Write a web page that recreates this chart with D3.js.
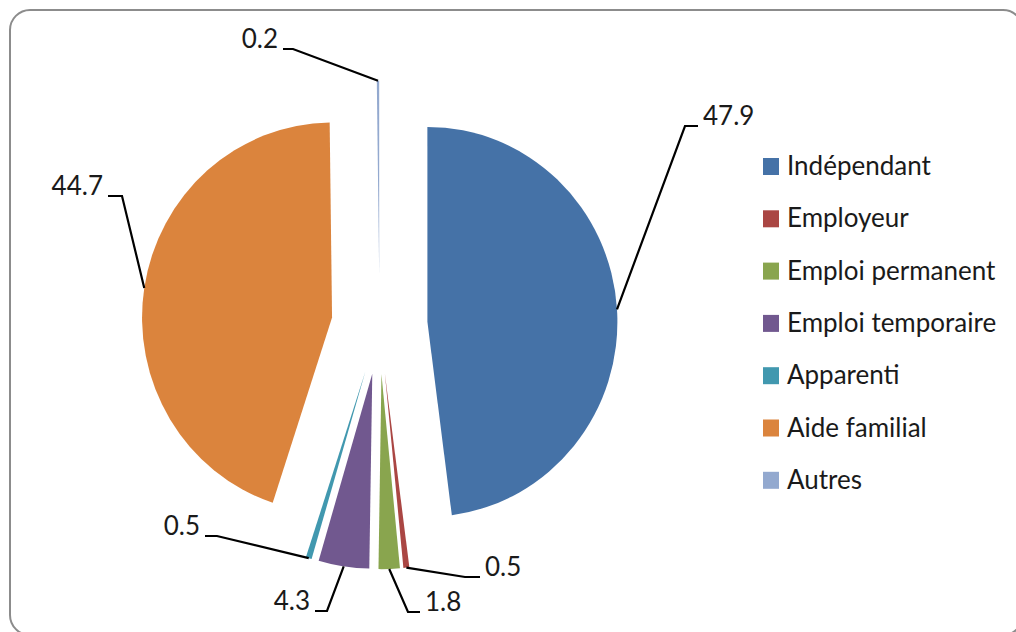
<!DOCTYPE html>
<html><head><meta charset="utf-8">
<script src="https://cdn.jsdelivr.net/npm/d3@7/dist/d3.min.js"></script>
<style>
html,body{margin:0;padding:0;background:#fff;}
text{font-family:Lato,"Open Sans",sans-serif;fill:#1a1a1a;}
</style></head>
<body>
<svg id="chart" width="1016" height="632"></svg>
<script>
// ---- data ----
const categories = ["Indépendant","Employeur","Emploi permanent","Emploi temporaire","Apparenti","Aide familial","Autres"];
const values = [47.9, 0.5, 1.8, 4.3, 0.5, 44.7, 0.2];
const valueLabels = ["47.9","0.5","1.8","4.3","0.5","44.7","0.2"];
const colors = ["#4572A7","#AA4643","#89A54E","#71588F","#4198AF","#DB843D","#93A9CF"];
// label layout: elbow point and horizontal stub direction (layout only)
const labelElbowX = [685, 465, 408, 327, 217, 122, 293];
const labelElbowY = [126, 577, 612, 611, 536, 196, 49];
const labelStub   = [13, 15, 12, -12, -12, -14, -10];

// ---- layout ----
const W = 1016, H = 632;
const cx = 379.5, cy = 325, r = 190, explode = 48, sy = 1.026;

const svg = d3.select("#chart");
svg.append("rect").attr("x",10).attr("y",10).attr("width",1013).attr("height",625)
  .attr("rx",20).attr("ry",20).attr("fill","#fff").attr("stroke","#8c8c8c").attr("stroke-width",2);

const pie = d3.pie().sort(null).value(d => d)(values);
const arc = d3.arc().innerRadius(0).outerRadius(r);

const g = svg.append("g").attr("transform",`translate(${cx},${cy}) scale(1,${sy})`);
g.selectAll("path").data(pie).join("path")
  .attr("d", arc)
  .attr("fill", (d,i) => colors[i])
  .attr("transform", d => {
    const m = (d.startAngle + d.endAngle)/2;
    return `translate(${explode*Math.sin(m)},${-explode*Math.cos(m)})`;
  });

// leader lines + labels
const lab = svg.append("g");
pie.forEach((d,i) => {
  const m = (d.startAngle + d.endAngle)/2;
  const sx = cx + (explode + r)*Math.sin(m);
  const syy = cy - (explode + r)*Math.cos(m)*sy;
  const ex = labelElbowX[i], ey = labelElbowY[i];
  const tx = ex + labelStub[i];
  lab.append("polyline")
    .attr("points", `${sx},${syy} ${ex},${ey} ${tx},${ey}`)
    .attr("fill","none").attr("stroke","#000").attr("stroke-width",2.2);
  lab.append("text")
    .attr("x", labelStub[i] > 0 ? tx + 5 : tx - 5)
    .attr("y", ey - 1)
    .attr("text-anchor", labelStub[i] > 0 ? "start" : "end")
    .attr("font-size", 26)
    .text(valueLabels[i]);
});

// legend
const leg = svg.append("g").attr("transform","translate(763,158)");
const row = 52.3;
categories.forEach((c,i) => {
  leg.append("rect").attr("x",0).attr("y",i*row).attr("width",16).attr("height",17).attr("fill",colors[i]);
  leg.append("text").attr("x",24).attr("y",i*row+17).attr("font-size",26).text(c);
});
</script>
</body></html>
